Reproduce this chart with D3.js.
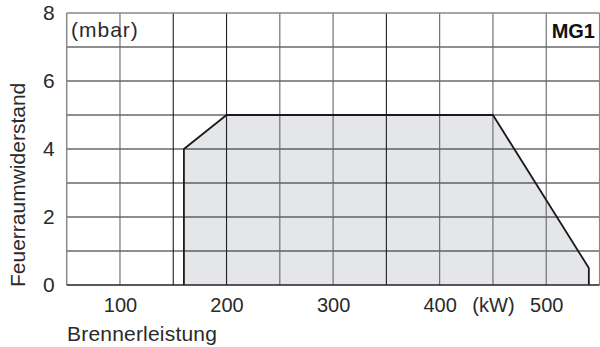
<!DOCTYPE html>
<html>
<head>
<meta charset="utf-8">
<script src="https://cdn.jsdelivr.net/npm/d3@7"></script>
<style>
  html, body { margin: 0; padding: 0; background: #fff; }
  svg { display: block; font-family: "Liberation Sans", Arial, sans-serif; }
</style>
</head>
<body>
<svg id="chart" width="600" height="347"></svg>
<script>
// Firing-rate envelope: burner output (kW) vs. combustion chamber back-pressure (mbar)
const envelopeKW   = [160, 160, 200, 450, 540, 540];
const envelopeMbar = [0,   4,   5,   5,   0.5, 0];

const xTickValues = [100, 200, 300, 400, 450, 500];
const xTickLabels = ["100", "200", "300", "400", "(kW)", "500"];
const yTickValues = [0, 2, 4, 6, 8];
const xGridValues = [100, 150, 200, 250, 300, 350, 400, 450, 500];
const xGridDark   = [150, 200, 350];
const yGridValues = [1, 2, 3, 4, 5, 6, 7];

(function drawChart() {
  const svg = d3.select("#chart");
  const plotLeft = 66.7, plotRight = 599.5, plotTop = 13, plotBottom = 285;

  const x = d3.scaleLinear().domain([50, 550]).range([plotLeft, plotRight]);
  const y = d3.scaleLinear().domain([0, 8]).range([plotBottom, plotTop]);

  // shaded operating range
  const pts = envelopeKW.map((k, i) => [x(k), y(envelopeMbar[i])]);
  svg.append("path")
    .attr("d", d3.line()(pts) + "Z")
    .attr("fill", "#e5e6e9")
    .attr("stroke", "none");

  // grid
  const grid = svg.append("g");
  grid.selectAll("line.h").data(yGridValues).join("line")
    .attr("class", "h")
    .attr("x1", plotLeft).attr("x2", plotRight)
    .attr("y1", d => y(d)).attr("y2", d => y(d))
    .attr("stroke", "#1e1e1e").attr("stroke-width", 1.1);
  grid.selectAll("line.v").data(xGridValues).join("line")
    .attr("class", "v")
    .attr("x1", d => x(d)).attr("x2", d => x(d))
    .attr("y1", plotTop).attr("y2", plotBottom)
    .attr("stroke", d => xGridDark.includes(d) ? "#1e1e1e" : "#666")
    .attr("stroke-width", 1.1);

  // envelope outline (left, top and sloping right sides)
  svg.append("path")
    .attr("d", d3.line()(pts))
    .attr("fill", "none")
    .attr("stroke", "#1a1a1a")
    .attr("stroke-width", 1.8)
    .attr("stroke-linejoin", "round");

  // frame
  svg.append("line").attr("x1", plotLeft).attr("x2", plotRight).attr("y1", plotTop).attr("y2", plotTop)
    .attr("stroke", "#888").attr("stroke-width", 1.3);
  svg.append("line").attr("x1", plotLeft).attr("x2", plotLeft).attr("y1", plotTop).attr("y2", plotBottom)
    .attr("stroke", "#888").attr("stroke-width", 1.5);
  svg.append("line").attr("x1", plotRight).attr("x2", plotRight).attr("y1", plotTop).attr("y2", plotBottom)
    .attr("stroke", "#888").attr("stroke-width", 1.2);
  svg.append("line").attr("x1", plotLeft).attr("x2", plotRight).attr("y1", plotBottom).attr("y2", plotBottom)
    .attr("stroke", "#222").attr("stroke-width", 1.6);

  // axes labels
  const xAxis = d3.axisBottom(x)
    .tickValues(xTickValues)
    .tickFormat((d, i) => xTickLabels[i])
    .tickSize(0).tickPadding(13);
  const gx = svg.append("g").attr("transform", `translate(0,${plotBottom})`).call(xAxis);
  gx.select(".domain").remove();
  gx.selectAll("text")
    .attr("font-size", 20).attr("fill", "#2a2a2a")
    .attr("font-family", "'Liberation Sans', Arial, sans-serif");

  const yAxis = d3.axisLeft(y).tickValues(yTickValues).tickSize(0).tickPadding(12);
  const gy = svg.append("g").attr("transform", `translate(${plotLeft},0)`).call(yAxis);
  gy.select(".domain").remove();
  gy.selectAll("text")
    .attr("font-size", 21).attr("fill", "#2a2a2a")
    .attr("font-family", "'Liberation Sans', Arial, sans-serif");

  svg.append("text")
    .attr("x", 67).attr("y", 341)
    .attr("font-size", 21).attr("letter-spacing", 0.2).attr("fill", "#2a2a2a")
    .text("Brennerleistung");

  svg.append("text")
    .attr("transform", "translate(25,287) rotate(-90)")
    .attr("font-size", 21).attr("fill", "#2a2a2a")
    .text("Feuerraumwiderstand");

  svg.append("text")
    .attr("x", 71).attr("y", 37)
    .attr("font-size", 21).attr("letter-spacing", 1).attr("fill", "#2a2a2a")
    .text("(mbar)");

  svg.append("text")
    .attr("x", 595).attr("y", 37.5)
    .attr("text-anchor", "end")
    .attr("font-size", 20).attr("font-weight", "bold").attr("fill", "#111")
    .text("MG1");
})();
</script>
</body>
</html>
